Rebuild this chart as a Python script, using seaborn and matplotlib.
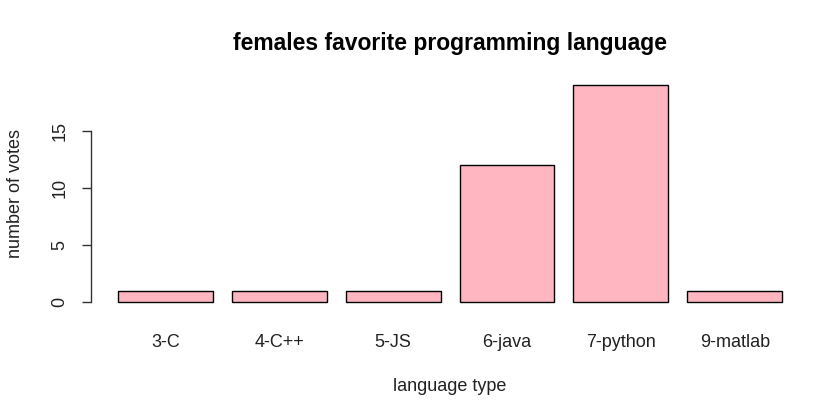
import numpy as np
import pandas as pd
import matplotlib
matplotlib.use("Agg")
import matplotlib.pyplot as plt
import seaborn as sns

languages = ["3-C", "4-C++", "5-JS", "6-java", "7-python", "9-matlab"]
votes = [1, 1, 1, 12, 19, 1]
y_ticks = [0, 5, 10, 15]

df = pd.DataFrame({"language": languages, "votes": votes})

sns.set_style("white")
plt.rcParams["font.family"] = ["Liberation Sans", "DejaVu Sans"]

fig = plt.figure(figsize=(8.37, 4.07), dpi=100)
ax = fig.add_axes([0.1092, 0.2366, 0.857, 0.575])

sns.barplot(data=df, x="language", y="votes", color="#FFB6C1",
            width=1 / 1.2, edgecolor="black", linewidth=1.0,
            saturation=1, ax=ax)

# R barplot style: 4% extension, no box
ax.set_xlim(-0.65, 5.65)
ax.set_ylim(-0.76, 19.76)
for s in ["top", "right", "bottom"]:
    ax.spines[s].set_visible(False)
ax.spines["left"].set_bounds(0, 15)
ax.spines["left"].set_linewidth(1.0)
ax.spines["left"].set_color("#333333")

ax.set_yticks(y_ticks)
ax.set_yticklabels([str(t) for t in y_ticks], rotation=90, va="center",
                   fontsize=13, color="#222222")
ax.tick_params(axis="y", direction="out", length=6.5, width=1.0,
               color="#333333", pad=10, left=True)
ax.tick_params(axis="x", length=0, pad=17, labelsize=13, labelcolor="#222222")

ax.set_xlabel("language type", fontsize=13, labelpad=19.5, color="#222222")
ax.set_ylabel("number of votes", fontsize=13, labelpad=20, color="#222222")
ax.set_title("females favorite programming language", fontsize=16.5,
             fontweight="bold", pad=19, color="black")

fig.savefig("out.png", dpi=100)
